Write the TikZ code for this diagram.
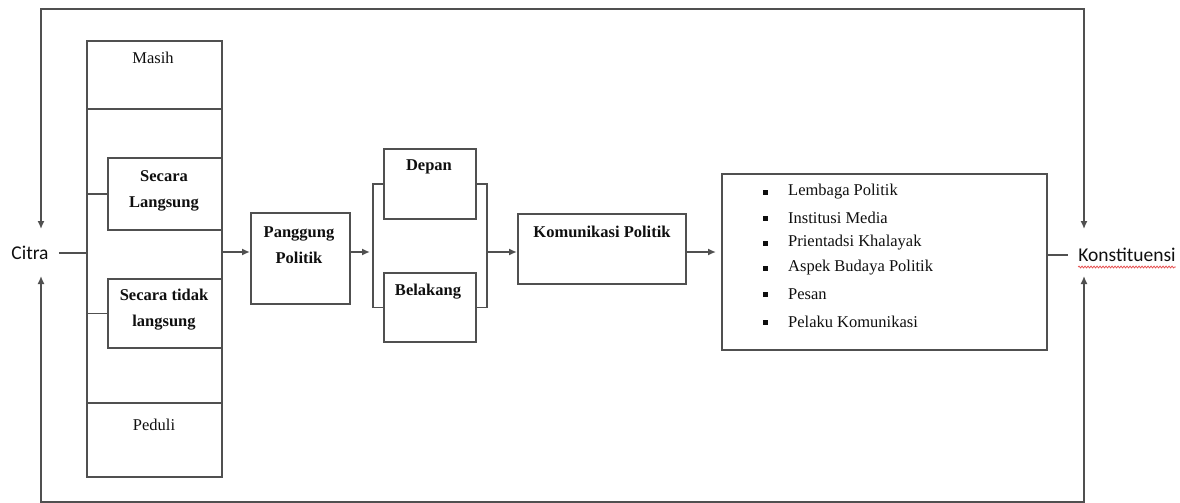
\documentclass[tikz,border=0pt]{standalone}
\usepackage{fontspec}
\setmainfont{Liberation Serif}
\newfontfamily\calibri{Carlito}
\usetikzlibrary{arrows.meta,decorations.pathmorphing}
\definecolor{edge}{RGB}{80,80,80}
\definecolor{ink}{RGB}{15,15,15}
\definecolor{spell}{RGB}{230,80,80}
\begin{document}
\begin{tikzpicture}[x=1pt,y=-1pt,
  box/.style={draw=edge,line width=2pt,inner sep=0pt,anchor=north west},
  divider/.style={draw=edge,line width=2pt},
  conn/.style={draw=edge,line width=1.6pt},
  arr/.style={conn,-{Latex[length=8pt,width=7pt]}},
  loopline/.style={draw=edge,line width=1.4pt,{Latex[length=8pt,width=7pt]}-{Latex[length=8pt,width=7pt]}},
  lbl/.style={text=ink,font=\fontsize{16.5}{26}\selectfont,align=center,inner sep=0pt},
  bold/.style={lbl,font=\fontsize{16.5}{26}\selectfont\bfseries},
  item/.style={lbl,anchor=west},
  bul/.style={fill=ink,minimum size=5pt,inner sep=0pt},
  side/.style={text=ink,font=\calibri\fontsize{19.5}{22}\selectfont,inner sep=2pt}]
\useasboundingbox (0,0) rectangle (1180,503);

% left column with its two sub boxes
\node[box,minimum width=135pt,minimum height=436pt] (col) at (86,40) {};
\draw[divider] (86,109) -- (221,109);
\draw[divider] (86,403) -- (221,403);
\node[box,minimum width=114pt,minimum height=72pt] (langsung) at (107,157) {};
\node[box,minimum width=114pt,minimum height=69pt] (tidak) at (107,278) {};

\node[lbl] (masih) at (153,58) {Masih};
\node[bold] (tLangsung) at (164,191) {Secara\\Langsung};
\node[bold] (tTidak) at (164,310) {Secara tidak\\langsung};
\node[lbl] (peduli) at (154,425) {Peduli};

% stage boxes
\node[box,minimum width=99pt,minimum height=91pt] (panggung) at (250,212) {};
\node[bold] (tPanggung) at (299,245) {Panggung\\Politik};
\node[box,minimum width=92pt,minimum height=70pt] (depan) at (383,148) {};
\node[bold] (tDepan) at (429,167) {Depan};
\node[box,minimum width=92pt,minimum height=69pt] (belakang) at (383,272) {};
\node[bold] (tBelakang) at (428,292) {Belakang};
\node[box,minimum width=168pt,minimum height=70pt] (kom) at (517,213) {};
\node[bold] (tKom) at (602,232) {Komunikasi Politik};

% list of elements
\node[box,minimum width=325pt,minimum height=176pt] (list) at (721,173) {};
\foreach \i/\y/\t in {1/192/Lembaga Politik,2/218/Institusi Media,3/243/Prientadsi Khalayak,4/268/Aspek Budaya Politik,5/294/Pesan,6/322/Pelaku Komunikasi}{
  \node[bul] (b\i) at (765,\y) {};
  \node[item] (t\i) at (788,\y) {\t};
}

% end labels
\node[side] (citra) at (30,253) {Citra};
\node[side] (konst) at (1127,255) {Konstituensi};
\draw[spell,line width=0.8pt,decorate,decoration={snake,amplitude=0.9pt,segment length=3pt}]
  ([xshift=2pt,yshift=-3pt]konst.south west) -- ([xshift=-2pt,yshift=-3pt]konst.south east);

% flow connectors
\coordinate (mid) at (0,252);
\draw[conn,shorten <=8pt] (citra.east) -- (citra.east -| col.west);
\draw[arr] (col.east |- mid) -- (panggung.west |- mid);
\draw[conn] (langsung.west) -- (langsung.west -| col.west);
\draw[conn] (tidak.west) -- (tidak.west -| col.west);
\draw[arr,shorten >=3pt] (panggung.east |- mid) -- ([xshift=-10pt]depan.west |- mid);
\draw[conn] (depan.west) -- ++(-10,0) |- (belakang.west);
\draw[conn] (depan.east) -- ++(10,0) |- (belakang.east);
\draw[arr] ([xshift=10pt]depan.east |- mid) -- (kom.west |- mid);
\draw[arr,shorten >=5pt] (kom.east |- mid) -- (list.west |- mid);
\draw[conn,shorten >=8pt] (list.east |- konst.west) -- (konst.west);

% feedback loop around the whole chain
\coordinate (citraUp) at (41,229);
\coordinate (citraDn) at (41,276);
\coordinate (konstUp) at (1084,229);
\coordinate (konstDn) at (1084,276);
\coordinate (top) at (0,9);
\coordinate (bottom) at (0,502);
\draw[loopline] (citraUp) -- (citraUp |- top) -- (konstUp |- top) -- (konstUp);
\draw[loopline] (citraDn) -- (citraDn |- bottom) -- (konstDn |- bottom) -- (konstDn);
\end{tikzpicture}
\end{document}
